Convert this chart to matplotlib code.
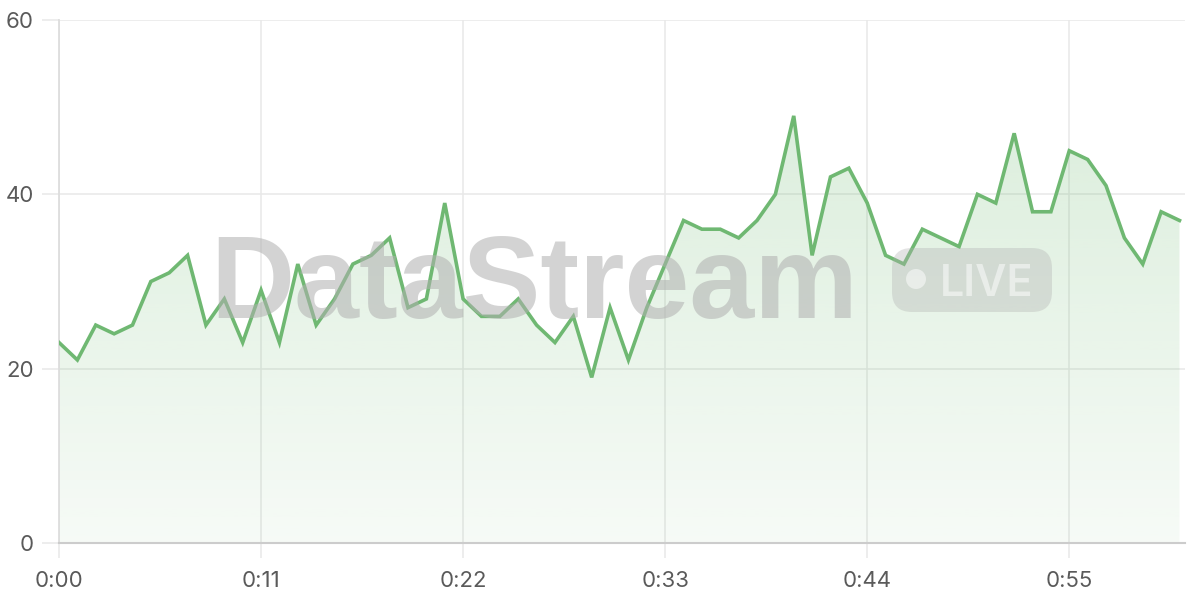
import numpy as np
import matplotlib.pyplot as plt
from matplotlib.patches import FancyBboxPatch, Circle, Polygon

# values (one per second)
values = [23, 21, 25, 24, 25, 30, 31, 33, 25, 28, 23, 29, 23, 32, 25, 28, 32, 33, 35, 27,
          28, 39, 28, 26, 26, 28, 25, 23, 26, 19, 27, 21, 27, 32, 37, 36, 36, 35, 37, 40,
          49, 33, 42, 43, 39, 33, 32, 36, 35, 34, 40, 39, 47, 38, 38, 45, 44, 41, 35, 32,
          38, 37]
seconds = list(range(len(values)))
x_ticks = [0, 11, 22, 33, 44, 55]
y_ticks = [0, 20, 40, 60]

LINE = '#6fb872'
GRID = '#e8e8e8'

plt.rcParams['font.family'] = ['Inter', 'DejaVu Sans']

fig = plt.figure(figsize=(12, 6), dpi=100)
ax = fig.add_axes([59 / 1200, 1 - 543 / 600, (1185 - 59) / 1200, (543 - 20) / 600])

ax.set_xlim(0, 61.3)
ax.set_ylim(0, 60)

# gradient fill under the line
grad = np.zeros((256, 1, 4))
grad[:, 0, 0] = 109 / 255
grad[:, 0, 1] = 185 / 255
grad[:, 0, 2] = 112 / 255
grad[:, 0, 3] = np.linspace(0.06, 0.24, 256)
img = ax.imshow(grad, aspect='auto', origin='lower',
                extent=[0, seconds[-1], 0, max(values)], zorder=1)
poly = Polygon(np.column_stack([[seconds[0]] + seconds + [seconds[-1]],
                                [0] + values + [0]]),
               closed=True, facecolor='none', edgecolor='none')
ax.add_patch(poly)
img.set_clip_path(poly)

ax.plot(seconds, values, color=LINE, lw=2.6, zorder=4, solid_joinstyle='miter')

# watermark
fig.text(210 / 1200, 1 - 318 / 600, 'DataStream', fontsize=84, fontweight='bold',
         family='Liberation Sans', color='#b0b0b0', alpha=0.55,
         ha='left', va='baseline', zorder=3)
pill = FancyBboxPatch((8.92, 6 - 3.12), 1.60, 0.64,
                      boxstyle='round,pad=0,rounding_size=0.2',
                      transform=fig.dpi_scale_trans,
                      facecolor='#b0b0b0', edgecolor='none', alpha=0.35, zorder=3)
fig.patches.append(pill)
fig.patches.append(Circle((9.16, 6 - 2.79), 0.10, transform=fig.dpi_scale_trans,
                          facecolor='white', edgecolor='none', alpha=0.5, zorder=3))
fig.text(940 / 1200, 1 - 296 / 600, 'LIVE', fontsize=31, fontweight='semibold',
         color='white', alpha=0.5, ha='left', va='baseline', zorder=3)

# axes styling
ax.set_xticks(x_ticks)
ax.set_xticklabels([f'{t // 60}:{t % 60:02d}' for t in x_ticks])
ax.set_yticks(y_ticks)
ax.grid(True, color=GRID, lw=1.1, zorder=0)
ax.set_axisbelow(True)
for s in ['top', 'right']:
    ax.spines[s].set_visible(False)
ax.spines['left'].set_color('#dddddd')
ax.spines['left'].set_linewidth(1.3)
ax.spines['bottom'].set_color('#cccccc')
ax.spines['bottom'].set_linewidth(1.5)
ax.tick_params(axis='x', length=11, width=1.1, color=GRID, pad=9,
               labelsize=16, labelcolor='#5a5a5a')
ax.tick_params(axis='y', length=12, width=1.1, color=GRID, pad=6,
               labelsize=16, labelcolor='#5a5a5a')

fig.savefig('out.png', dpi=100)
